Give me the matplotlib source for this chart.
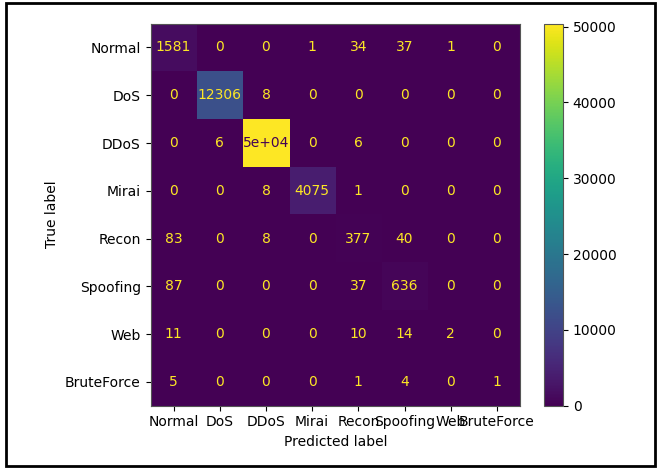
import numpy as np
import matplotlib.pyplot as plt
from matplotlib.patches import Rectangle

labels = ['Normal', 'DoS', 'DDoS', 'Mirai', 'Recon', 'Spoofing', 'Web', 'BruteForce']

cm = np.array([
    [1581, 0, 0, 1, 34, 37, 1, 0],
    [0, 12306, 8, 0, 0, 0, 0, 0],
    [0, 6, 50400, 0, 6, 0, 0, 0],
    [0, 0, 8, 4075, 1, 0, 0, 0],
    [83, 0, 8, 0, 377, 40, 0, 0],
    [87, 0, 0, 0, 37, 636, 0, 0],
    [11, 0, 0, 0, 10, 14, 2, 0],
    [5, 0, 0, 0, 1, 4, 0, 1],
])

fig = plt.figure(figsize=(6.59, 4.68), dpi=100)
ax = fig.add_axes([0.2284, 0.1331, 0.5607, 0.8165])
cax = fig.add_axes([0.825, 0.1331, 0.0293, 0.8165])

cmap = plt.get_cmap('viridis')
im = ax.imshow(cm, cmap=cmap, aspect='auto', interpolation='nearest')

# sklearn-style text: .2g unless plain integer is shorter
thresh = (cm.max() + cm.min()) / 2.0
for i in range(cm.shape[0]):
    for j in range(cm.shape[1]):
        v = cm[i, j]
        txt = format(v, '.2g')
        d = format(v, 'd')
        if len(d) < len(txt):
            txt = d
        color = cmap(0.0) if v > thresh else cmap(1.0)
        ax.text(j, i, txt, ha='center', va='center', color=color, fontsize=10)

ax.set_xticks(range(len(labels)))
ax.set_xticklabels(labels)
ax.set_yticks(range(len(labels)))
ax.set_yticklabels(labels)
ax.set_xlabel('Predicted label')
ax.set_ylabel('True label')
for s in ax.spines.values():
    s.set_color('#555555')

cb = fig.colorbar(im, cax=cax)
cb.set_ticks([0, 10000, 20000, 30000, 40000, 50000])
cb.outline.set_edgecolor('#555555')

# screenshot frame
fig.patches.append(Rectangle((6 / 659, 2 / 468), 649 / 659, 463 / 468,
                             transform=fig.transFigure, fill=False,
                             edgecolor='black', linewidth=2))

fig.savefig('out.png', dpi=100)
